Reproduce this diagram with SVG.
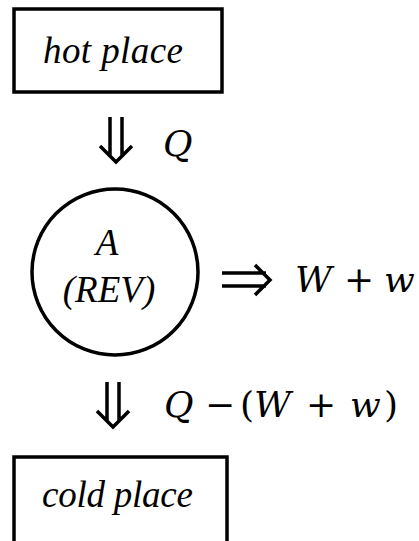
<svg xmlns="http://www.w3.org/2000/svg" width="419" height="541" viewBox="0 0 419 541">
<style>
.box{fill:#fff;stroke:#000;stroke-width:3.5}
.t{font-family:"Liberation Serif","Times New Roman",serif;font-style:italic;font-size:37px;fill:#000}
.m{font-family:"DejaVu Serif","Liberation Serif",serif;font-style:italic;font-size:36px;fill:#000}
.u{font-style:normal}
.arr{fill:none;stroke:#000;stroke-width:3.5}
</style>
<rect width="419" height="541" fill="#fff"/>
<g id="hot">
<rect class="box" x="14" y="9" width="208" height="83"/>
<text class="t" x="43" y="63" textLength="140">hot place</text>
</g>
<g id="engine">
<circle class="box" cx="115" cy="272" r="83"/>
<text class="t" x="107" y="255" text-anchor="middle" font-size="35">A</text>
<text class="t" x="109" y="302" text-anchor="middle" font-size="35">(REV)</text>
</g>
<g id="cold">
<rect class="box" x="14" y="457" width="213" height="100"/>
<text class="t" x="42" y="507" textLength="151">cold place</text>
</g>
<g id="connectors">
<path class="arr" d="M110 117V156M122 117V156M100 146L116 162L132 146"/>
<path class="arr" d="M222 273H266M222 286H266M255 265L270 280L255 295"/>
<path class="arr" d="M107 382V421M119 382V421M97 411L113 427L129 411"/>
</g>
<g id="labels">
<text class="m" x="163" y="156">Q</text>
<text class="m" y="292"><tspan x="295">W</tspan><tspan class="u" x="344">+</tspan><tspan x="384">w</tspan></text>
<text class="m" y="417"><tspan x="164">Q</tspan><tspan class="u" x="205">−</tspan><tspan class="u" x="240">(</tspan><tspan>W</tspan><tspan class="u" x="306">+</tspan><tspan x="350">w</tspan><tspan class="u" x="384">)</tspan></text>
</g>
</svg>
